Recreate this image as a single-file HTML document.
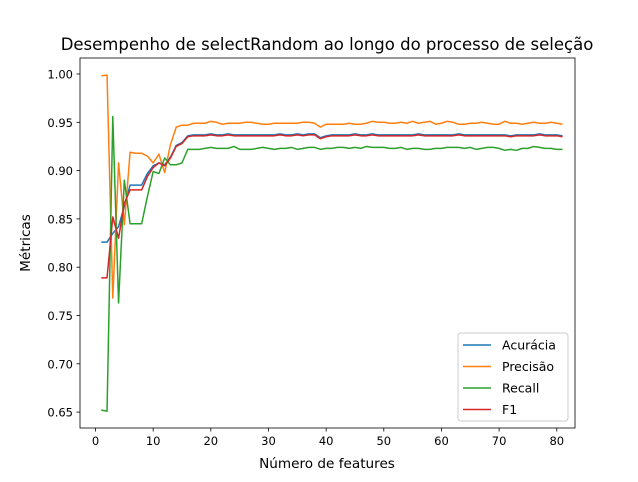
<!DOCTYPE html>
<html><head><meta charset="utf-8"><style>
body{margin:0;background:#fff;}
svg text{font-family:"DejaVu Sans","Liberation Sans",sans-serif;fill:#000;}
</style></head><body>
<svg id="chart" width="638" height="477" xmlns="http://www.w3.org/2000/svg">
<rect width="638" height="477" fill="#fff"/>
<text x="327" y="50" font-size="16.5" text-anchor="middle">Desempenho de selectRandom ao longo do processo de seleção</text>
<g id="plot"></g>
<text x="327" y="468" font-size="13.6" text-anchor="middle">Número de features</text>
<text transform="translate(30,243) rotate(-90)" font-size="13.6" text-anchor="middle">Métricas</text>
</svg>
<script>
const xTicks=[0,10,20,30,40,50,60,70,80];
const yTicks=[0.65,0.70,0.75,0.80,0.85,0.90,0.95,1.00];
const seriesNames=["Acurácia","Precisão","Recall","F1"];
const colors=["#1f77b4","#ff7f0e","#2ca02c","#d62728"];
const accEarly=[.826,.826,.835,.842,.863,.885,.885,.885,.897,.905,.908,.906,.914,.926,.929,.936];
const accLate=[.937,.937,.937,.938,.937,.937,.938,.937,.937,.937,.937,.937,.937,.937,.937,.938,.937,.937,.938,.937,.938,.938,.934,.936,.937,.937,.937,.937,.938,.937,.937,.938,.937,.937,.937,.937,.937,.937,.937,.938,.937,.937,.937,.937,.937,.937,.938,.937,.937,.937,.937,.937,.937,.937,.937,.936,.937,.937,.937,.937,.938,.937,.937,.937,.936];
const precEarly=[.998,.999,.768,.908,.844,.919,.918,.918,.915,.908,.917,.898,.927,.945,.947,.947];
const precLate=[.949,.949,.949,.951,.950,.948,.949,.949,.949,.950,.950,.949,.948,.948,.949,.949,.949,.949,.949,.950,.950,.949,.945,.948,.948,.948,.948,.949,.948,.948,.949,.951,.950,.950,.949,.949,.950,.949,.951,.949,.950,.951,.948,.949,.951,.950,.948,.948,.949,.949,.950,.949,.948,.948,.951,.949,.949,.948,.949,.950,.949,.949,.950,.949,.948];
const recEarly=[.652,.651,.956,.763,.890,.845,.845,.845,.873,.899,.897,.913,.906,.906,.908,.922];
const recLate=[.922,.922,.923,.924,.923,.923,.923,.925,.922,.922,.922,.923,.924,.923,.922,.923,.923,.924,.922,.923,.924,.924,.922,.923,.923,.924,.924,.923,.924,.923,.925,.924,.924,.924,.923,.923,.924,.922,.923,.923,.922,.922,.923,.923,.924,.924,.924,.923,.924,.922,.923,.924,.924,.923,.921,.922,.921,.923,.923,.925,.924,.923,.923,.922,.922];
const f1Early=[.789,.789,.852,.830,.866,.880,.880,.880,.894,.903,.908,.905,.913,.925,.928,.935];
const f1Late=[.936,.936,.936,.937,.936,.936,.937,.936,.936,.936,.936,.936,.936,.936,.936,.937,.936,.936,.937,.936,.937,.937,.933,.935,.936,.936,.936,.936,.937,.936,.936,.937,.936,.936,.936,.936,.936,.936,.936,.937,.936,.936,.936,.936,.936,.936,.937,.936,.936,.936,.936,.936,.936,.936,.936,.935,.936,.936,.936,.936,.937,.936,.936,.936,.935];
const series=[accEarly.concat(accLate),precEarly.concat(precLate),recEarly.concat(recLate),f1Early.concat(f1Late)];

const L=80,R=575,T=58,B=428;
const xs=v=>95.5+v*5.766;
const ys=v=>74-(v-1.0)*966;
const NS="http://www.w3.org/2000/svg";
const g=document.getElementById('plot');
function mk(t,a){const e=document.createElementNS(NS,t);for(const k in a)e.setAttribute(k,a[k]);g.appendChild(e);return e;}
series.forEach((s,i)=>{
  const pts=s.map((v,j)=>xs(j+1).toFixed(2)+","+ys(v).toFixed(2)).join(" ");
  const p=mk('polyline',{points:pts,fill:'none',stroke:colors[i],'stroke-width':1.5,'stroke-linejoin':'round'});
  
  
});
const frame=mk('rect',{x:L,y:T,width:R-L,height:B-T,fill:'none',stroke:'#000','stroke-width':0.8});


xTicks.forEach(v=>{
  const x=xs(v);
  const l=mk('line',{x1:x,x2:x,y1:B,y2:B+3.5,stroke:'#000','stroke-width':0.8});
  
  
  const t=mk('text',{x:x,y:B+17,'font-size':11.5,'text-anchor':'middle'});
  t.textContent=v;
  
  
});
yTicks.forEach(v=>{
  const y=ys(v);
  const l=mk('line',{x1:L-3.5,x2:L,y1:y,y2:y,stroke:'#000','stroke-width':0.8});
  
  
  const t=mk('text',{x:L-7,y:y+4.5,'font-size':11.5,'text-anchor':'end'});
  t.textContent=v.toFixed(2);
  
  
});
const lg=mk('rect',{x:458,y:333,width:110,height:88,rx:3,fill:'#fff',stroke:'#ccc','stroke-width':1});


seriesNames.forEach((n,i)=>{
  const y=345+i*21.5;
  const l=mk('line',{x1:463,x2:491,y1:y,y2:y,stroke:colors[i],'stroke-width':1.5});
  
  
  const t=mk('text',{x:502,y:y+4.5,'font-size':12.5});
  t.textContent=n;
  
  
});
</script>
</body></html>
